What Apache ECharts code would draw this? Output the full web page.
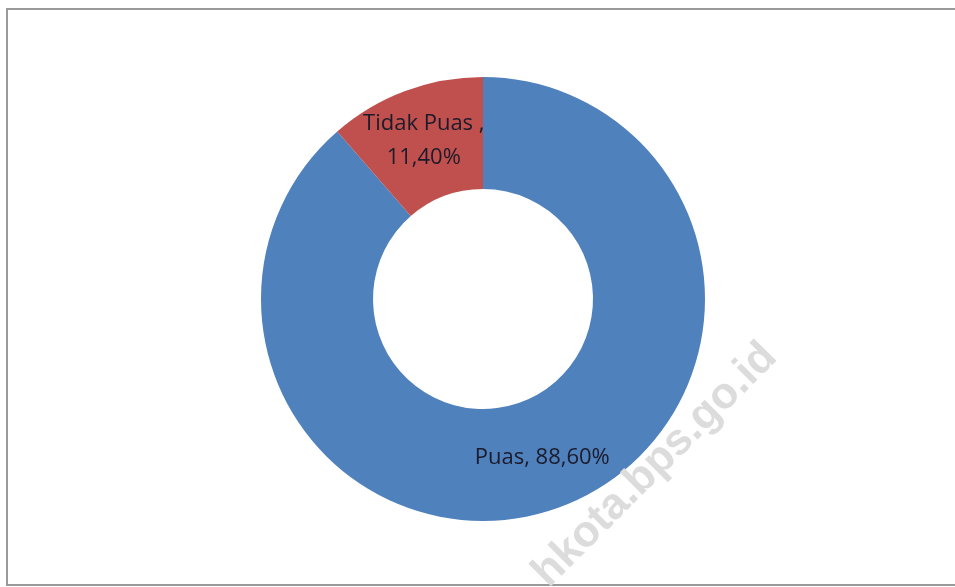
<!DOCTYPE html>
<html>
<head>
<meta charset="utf-8">
<script src="https://cdn.jsdelivr.net/npm/echarts@6/dist/echarts.min.js"></script>
<style>
  html, body { margin: 0; padding: 0; background: #fff; }
  #chart { width: 955px; height: 587px; }
</style>
</head>
<body>
<div id="chart"></div>
<script>
  // kategori kepuasan
  var categories = ['Puas', 'Tidak Puas '];
  var percentValues = [88.6, 11.4];
  var sliceColors = ['#4F81BD', '#C0504D'];

  var chart = echarts.init(document.getElementById('chart'));

  var pieData = categories.map(function (name, i) {
    return { name: name, value: percentValues[i], itemStyle: { color: sliceColors[i] } };
  });

  var option = {
    backgroundColor: '#ffffff',
    animation: false,
    graphic: [
      {
        type: 'rect',
        shape: { x: 7, y: 9, width: 960, height: 576 },
        style: { fill: 'none', stroke: '#9a9a9a', lineWidth: 2 },
        silent: true
      },
      {
        type: 'text',
        x: 655, y: 465,
        rotation: Math.PI / 4,
        style: {
          text: 'hkota.bps.go.id',
          fill: '#dcdcdc',
          font: 'bold 44px "Liberation Sans", sans-serif',
          align: 'center',
          verticalAlign: 'middle'
        },
        z: 100,
        silent: true
      }
    ],
    series: [
      {
        type: 'pie',
        center: [483, 299],
        radius: [110, 222],
        startAngle: 90,
        clockwise: true,
        data: pieData,
        itemStyle: { borderWidth: 0 },
        label: {
          show: true,
          position: 'inside',
          color: '#1b1b2b',
          fontFamily: '"Open Sans", sans-serif',
          fontSize: 22,
          lineHeight: 34,
          formatter: function (p) {
            var v = p.value.toFixed(2).replace('.', ',') + '%';
            if (p.dataIndex === 1) {
              return p.name + ',\n' + v;
            }
            return p.name + ', ' + v;
          }
        },
        labelLine: { show: false },
        emphasis: { disabled: true }
      }
    ]
  };
  chart.setOption(option);
</script>
</body>
</html>
